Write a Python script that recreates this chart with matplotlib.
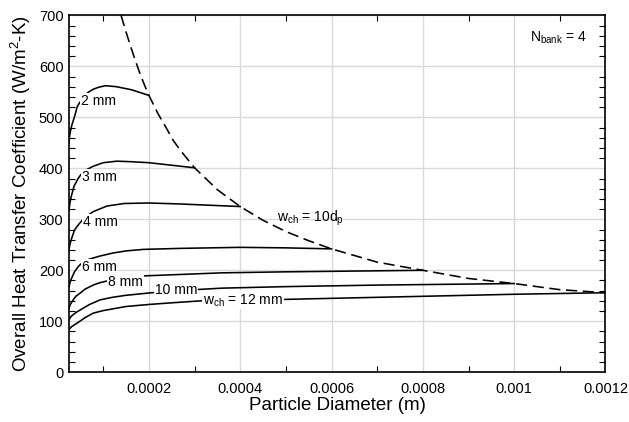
import matplotlib
matplotlib.use("Agg")
import matplotlib.pyplot as plt
from matplotlib.ticker import MultipleLocator, FixedLocator, FixedFormatter

plt.rcParams['font.family'] = ['Liberation Sans', 'DejaVu Sans']
plt.rcParams['mathtext.fontset'] = 'custom'
plt.rcParams['mathtext.rm'] = 'Liberation Sans'
plt.rcParams['mathtext.it'] = 'Liberation Sans'
plt.rcParams['mathtext.bf'] = 'Liberation Sans:bold'

# ---- data ----
x_2mm = [0.000025, 0.000026, 0.000028, 0.000031, 0.000038, 0.000043, 0.000055, 0.000067, 0.000078, 0.00009, 0.000105, 0.000129, 0.000162, 0.0002]
y_2mm = [450, 462, 472, 484, 504, 521, 538, 549, 555, 559, 562, 560, 554, 543]

x_3mm = [0.000025, 0.000027, 0.00003, 0.000036, 0.000045, 0.000053, 0.000065, 0.000078, 0.0001, 0.00013, 0.00016, 0.0002, 0.00025, 0.0003]
y_3mm = [318, 332, 345, 365, 380, 390, 398, 404, 411, 414, 413, 411, 406, 401]

x_4mm = [0.000025, 0.000027, 0.000031, 0.000037, 0.000047, 0.00006, 0.000078, 0.000108, 0.000146, 0.0002, 0.00027, 0.0004]
y_4mm = [240, 251, 263, 279, 291, 304, 315, 326, 331, 332, 330, 325]

x_6mm = [0.000025, 0.000027, 0.00003, 0.000037, 0.000045, 0.000053, 0.00006, 0.00007, 0.000093, 0.000122, 0.00015, 0.000188, 0.00027, 0.0004, 0.0005, 0.0006]
y_6mm = [167, 175, 183, 197, 207, 214, 218, 222, 228, 234, 238, 241, 243, 245, 244, 242]

x_8mm = [0.000025, 0.000027, 0.00003, 0.000035, 0.00004, 0.000049, 0.00006, 0.000078, 0.00009, 0.000108, 0.00014, 0.000188, 0.00036, 0.0005, 0.0006, 0.0008]
y_8mm = [125, 131, 136, 143, 149, 155, 163, 171, 175, 179, 184, 189, 195, 197, 198, 200]

x_10mm = [0.000025, 0.000027, 0.00003, 0.00004, 0.000049, 0.00007, 0.000093, 0.00012, 0.00015, 0.000206, 0.0003, 0.00036, 0.0005, 0.0007, 0.001]
y_10mm = [103, 106, 110, 117, 122, 133, 142, 147, 151, 156, 162, 165, 168, 171, 174]

x_12mm = [0.000025, 0.000027, 0.00003, 0.000035, 0.000042, 0.00006, 0.000078, 0.0001, 0.00015, 0.0002, 0.000246, 0.000312, 0.0005, 0.0008, 0.001, 0.0012]
y_12mm = [83, 86, 89, 92, 96, 107, 116, 121, 129, 133, 136, 140, 143, 149, 153, 156]

x_limit = [0.000139, 0.00015, 0.00016, 0.00017, 0.00018, 0.00019, 0.0002, 0.00022, 0.00024, 0.000253, 0.00027, 0.0003, 0.00035, 0.0004, 0.00045, 0.0005, 0.00055, 0.0006, 0.0007, 0.0008, 0.0009, 0.001, 0.0011, 0.0012]
y_limit = [700, 667, 639, 612, 587, 564, 543, 507, 476, 455, 434, 401, 358, 325, 298, 276, 258, 242, 216, 200, 184, 174, 162, 156]

x_ticks = [0.0002, 0.0004, 0.0006, 0.0008, 0.001, 0.0012]
x_tick_labels = ['0.0002', '0.0004', '0.0006', '0.0008', '0.001', '0.0012']

# ---- figure ----
fig = plt.figure(figsize=(6.29, 4.22), dpi=100)
ax = fig.add_axes([0.1097, 0.1178, 0.8529, 0.8459])

lw = 1.15
for xs, ys in [(x_2mm, y_2mm), (x_3mm, y_3mm), (x_4mm, y_4mm), (x_6mm, y_6mm),
               (x_8mm, y_8mm), (x_10mm, y_10mm), (x_12mm, y_12mm)]:
    ax.plot(xs, ys, color='black', lw=lw, zorder=3, solid_joinstyle='round')
ax.plot(x_limit, y_limit, color='black', lw=lw, dashes=(7, 3.5), zorder=3)

ax.set_xlim(0.000025, 0.0012)
ax.set_ylim(0, 700)

ax.xaxis.set_major_locator(FixedLocator(x_ticks))
ax.xaxis.set_major_formatter(FixedFormatter(x_tick_labels))
ax.xaxis.set_minor_locator(FixedLocator([0.0001, 0.0003, 0.0005, 0.0007, 0.0009, 0.0011]))
ax.yaxis.set_major_locator(MultipleLocator(100))
ax.yaxis.set_minor_locator(MultipleLocator(20))

ax.tick_params(which='both', direction='in', top=True, right=True, labelsize=10.5, width=0.8)
ax.tick_params(which='major', length=0, pad=7)
ax.tick_params(axis='y', which='major', pad=4)
ax.tick_params(which='minor', length=4)
ax.grid(True, which='major', color='#d9d9d9', lw=1.0, zorder=0)
for s in ax.spines.values():
    s.set_linewidth(1.2)
    s.set_zorder(4)

ax.set_xlabel('Particle Diameter (m)', fontsize=13.5, labelpad=1)
ax.set_ylabel('Overall Heat Transfer Coefficient (W/m$^{2}$-K)', fontsize=13.5, labelpad=4)

lab = dict(fontsize=10, va='center', ha='left', zorder=5,
           bbox=dict(facecolor='white', edgecolor='none', pad=0.6))
ax.text(0.0000506, 532, '2 mm', **lab)
ax.text(0.0000528, 383, '3 mm', **lab)
ax.text(0.000055, 295, '4 mm', **lab)
ax.text(0.000053, 207, '6 mm', **lab)
ax.text(0.000110, 177, '8 mm', **lab)
ax.text(0.000213, 161, '10 mm', **lab)
ax.text(0.000318, 141, r'w$_{\mathrm{ch}}$ = 12 mm', **lab)
ax.text(0.000481, 302, r'w$_{\mathrm{ch}}$ = 10d$_{\mathrm{p}}$', fontsize=10, va='center', ha='left', zorder=5)
ax.text(0.001159, 655, r'N$_{\mathrm{bank}}$ = 4', fontsize=10, va='center', ha='right', zorder=5)

fig.savefig('out.png', dpi=100)
